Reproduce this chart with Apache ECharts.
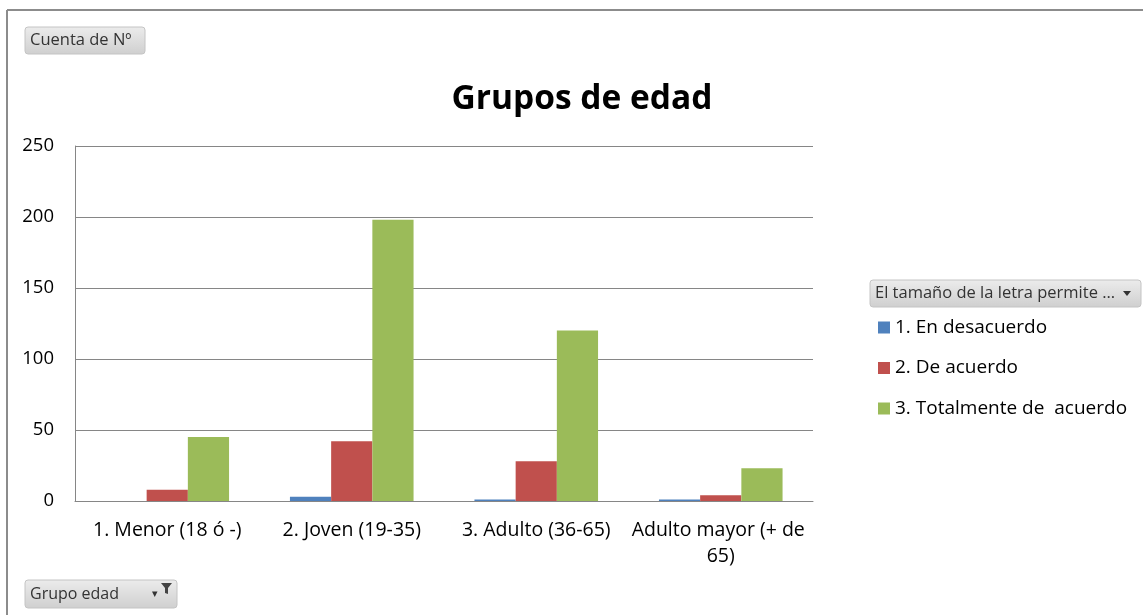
<!DOCTYPE html>
<html><head><meta charset="utf-8">
<script src="https://cdn.jsdelivr.net/npm/echarts@6/dist/echarts.min.js"></script>
<style>html,body{margin:0;padding:0;background:#fff}#c{width:1143px;height:615px}</style>
</head><body><div id="c"></div>
<script>
const categories = ['1. Menor (18 ó -)', '2. Joven (19-35)', '3. Adulto (36-65)', 'Adulto mayor (+ de 65)'];
const seriesNames = ['1. En desacuerdo', '2. De acuerdo', '3. Totalmente de  acuerdo'];
const enDesacuerdo = [0, 3, 1, 1];
const deAcuerdo = [8, 42, 28, 4];
const totalmente = [45, 198, 120, 23];
const colors = ['#4F81BD', '#C0504D', '#9BBB59'];
const yTicks = [0, 50, 100, 150, 200, 250];

const font = '"Open Sans", Lato, sans-serif';
const chart = echarts.init(document.getElementById('c'), null, {renderer: 'canvas'});

function button(x, y, w, h, label, size, extra) {
  const els = [{
    type: 'rect', shape: {x: x, y: y, width: w, height: h, r: 3},
    style: {fill: {type: 'linear', x: 0, y: 0, x2: 0, y2: 1, colorStops: [{offset: 0, color: '#ececec'}, {offset: 1, color: '#cfcfcf'}]}, stroke: '#c4c4c4', lineWidth: 1}
  }, {
    type: 'text', x: x + 5, y: y + h / 2,
    style: {text: label, font: size + 'px ' + font, fill: '#333', textVerticalAlign: 'middle'}
  }];
  return els.concat(extra || []);
}

const dataArrays = [enDesacuerdo, deAcuerdo, totalmente];
chart.setOption({
  animation: false,
  title: {text: 'Grupos de edad', left: 577, top: 77, textAlign: 'center',
    textStyle: {fontFamily: font, fontSize: 33.5, fontWeight: 'bold', color: '#000'}},
  grid: {left: 75, right: 330, top: 146, bottom: 114, containLabel: false},
  legend: {
    orient: 'vertical', left: 873, top: 313, itemWidth: 12, itemHeight: 12, itemGap: 21.5,
    icon: 'rect', data: seriesNames,
    textStyle: {fontFamily: font, fontSize: 19, color: '#000', padding: [0, 0, 0, 0]}
  },
  xAxis: {
    type: 'category', data: categories,
    axisLine: {lineStyle: {color: '#868686', width: 1}},
    axisTick: {show: false},
    axisLabel: {fontFamily: font, fontSize: 19.5, color: '#000', margin: 16, interval: 0,
      width: 180, overflow: 'break', lineHeight: 26}
  },
  yAxis: {
    type: 'value', min: yTicks[0], max: yTicks[yTicks.length - 1], interval: 50,
    axisLine: {show: true, lineStyle: {color: '#868686', width: 1}},
    axisTick: {show: false},
    splitLine: {lineStyle: {color: '#868686', width: 1}},
    axisLabel: {fontFamily: font, fontSize: 18.5, color: '#000', margin: 21}
  },
  series: seriesNames.map((n, i) => ({
    name: n, type: 'bar', data: dataArrays[i], barGap: '0%', barCategoryGap: '33%',
    itemStyle: {color: colors[i]}
  })),
  graphic: [
    {type: 'line', shape: {x1: 7, y1: 615, x2: 7, y2: 10}, style: {stroke: '#8c8c8c', lineWidth: 2}},
    {type: 'line', shape: {x1: 7, y1: 10, x2: 1143, y2: 10}, style: {stroke: '#8c8c8c', lineWidth: 2}},
    ...button(25, 27, 120, 27, 'Cuenta de Nº', 16.5),
    ...button(25, 580, 152, 28, 'Grupo edad', 16, [
      {type: 'text', x: 152, y: 588, style: {text: '▾', font: '11px sans-serif', fill: '#333'}},
      {type: 'polygon', shape: {points: [[161, 583], [172, 583], [168, 588], [168, 594], [165, 593], [165, 588]]}, style: {fill: '#444'}}
    ]),
    ...button(870, 280, 271, 27, 'El tamaño de la letra permite ...', 16.5, [
      {type: 'polygon', shape: {points: [[1123, 291], [1131, 291], [1127, 296]]}, style: {fill: '#333'}}
    ])
  ]
});
</script></body></html>
